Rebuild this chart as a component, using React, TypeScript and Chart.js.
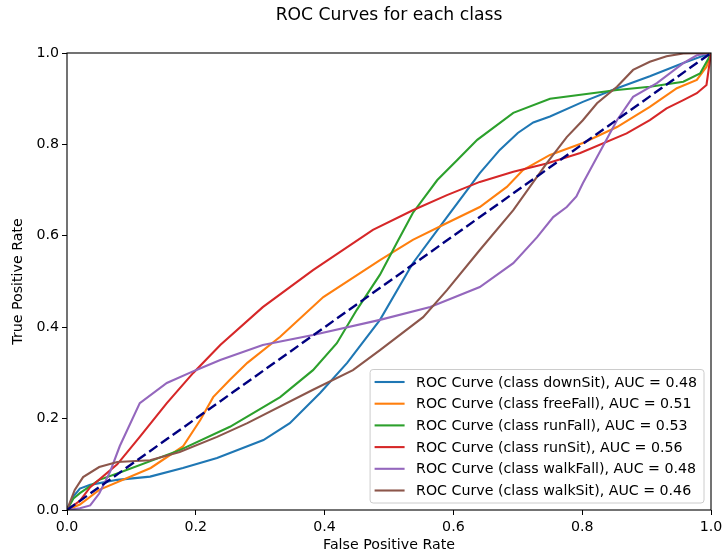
import React, { useEffect, useRef } from "react";
import { Chart, registerables } from "chart.js";

Chart.register(...registerables);

const chartTitle = "ROC Curves for each class";
const xAxisTitle = "False Positive Rate";
const yAxisTitle = "True Positive Rate";

const classNames = ["downSit", "freeFall", "runFall", "runSit", "walkFall", "walkSit"];
const aucValues = [0.48, 0.51, 0.53, 0.56, 0.48, 0.46];
const classColors = ["#1f77b4", "#ff7f0e", "#2ca02c", "#d62728", "#9467bd", "#8c564b"];

const downSitFpr = [0, 0.01, 0.02, 0.036, 0.078, 0.129, 0.18, 0.233, 0.305, 0.346, 0.393, 0.435, 0.486, 0.537, 0.59, 0.641, 0.672, 0.7, 0.724, 0.75, 0.801, 0.854, 0.905, 0.957, 1];
const downSitTpr = [0, 0.03, 0.047, 0.055, 0.066, 0.073, 0.092, 0.114, 0.153, 0.19, 0.256, 0.322, 0.416, 0.54, 0.641, 0.737, 0.788, 0.825, 0.848, 0.861, 0.893, 0.923, 0.949, 0.978, 1];

const freeFallFpr = [0, 0.02, 0.05, 0.13, 0.18, 0.207, 0.227, 0.253, 0.28, 0.331, 0.398, 0.486, 0.537, 0.59, 0.641, 0.683, 0.708, 0.75, 0.801, 0.854, 0.905, 0.947, 0.978, 0.993, 1];
const freeFallTpr = [0, 0.012, 0.044, 0.092, 0.139, 0.197, 0.247, 0.285, 0.322, 0.379, 0.466, 0.547, 0.591, 0.628, 0.663, 0.707, 0.744, 0.777, 0.803, 0.838, 0.882, 0.923, 0.941, 0.97, 1];

const runFallFpr = [0, 0.01, 0.02, 0.05, 0.078, 0.175, 0.253, 0.331, 0.382, 0.419, 0.45, 0.486, 0.512, 0.537, 0.575, 0.606, 0.637, 0.693, 0.75, 0.854, 0.905, 0.957, 0.983, 0.995, 1];
const runFallTpr = [0, 0.025, 0.037, 0.066, 0.08, 0.131, 0.182, 0.247, 0.306, 0.365, 0.438, 0.515, 0.584, 0.65, 0.722, 0.766, 0.81, 0.869, 0.9, 0.919, 0.926, 0.937, 0.955, 0.985, 1];

const runSitFpr = [0, 0.02, 0.036, 0.078, 0.113, 0.155, 0.196, 0.238, 0.304, 0.382, 0.475, 0.537, 0.59, 0.641, 0.693, 0.745, 0.797, 0.869, 0.905, 0.931, 0.957, 0.978, 0.993, 1];
const runSitTpr = [0, 0.02, 0.05, 0.1, 0.16, 0.234, 0.3, 0.361, 0.444, 0.525, 0.613, 0.656, 0.689, 0.718, 0.74, 0.758, 0.781, 0.824, 0.853, 0.879, 0.897, 0.912, 0.93, 1];

const walkFallFpr = [0, 0.02, 0.036, 0.05, 0.067, 0.082, 0.113, 0.155, 0.2, 0.238, 0.304, 0.382, 0.486, 0.564, 0.641, 0.693, 0.73, 0.755, 0.776, 0.791, 0.801, 0.854, 0.879, 0.916, 0.957, 0.978, 1];
const walkFallTpr = [0, 0.004, 0.01, 0.036, 0.084, 0.14, 0.234, 0.278, 0.306, 0.328, 0.361, 0.383, 0.416, 0.444, 0.488, 0.54, 0.597, 0.641, 0.663, 0.686, 0.715, 0.853, 0.904, 0.934, 0.978, 0.995, 1];

const walkSitFpr = [0, 0.012, 0.025, 0.05, 0.078, 0.129, 0.175, 0.233, 0.28, 0.382, 0.444, 0.486, 0.553, 0.59, 0.641, 0.693, 0.745, 0.776, 0.801, 0.823, 0.854, 0.879, 0.905, 0.931, 0.957, 1];
const walkSitTpr = [0, 0.044, 0.072, 0.094, 0.105, 0.109, 0.127, 0.16, 0.19, 0.263, 0.306, 0.35, 0.422, 0.481, 0.569, 0.656, 0.759, 0.816, 0.853, 0.89, 0.926, 0.963, 0.981, 0.993, 0.999, 1];

const chanceFpr = [0, 1];
const chanceTpr = [0, 1];

const tickValues = [0, 0.2, 0.4, 0.6, 0.8, 1.0];

const fprList = [downSitFpr, freeFallFpr, runFallFpr, runSitFpr, walkFallFpr, walkSitFpr];
const tprList = [downSitTpr, freeFallTpr, runFallTpr, runSitTpr, walkFallTpr, walkSitTpr];

const FONT = "'DejaVu Sans', sans-serif";
const TEXT_SIZE = 14.2;

const toPoints = (xs: number[], ys: number[]) => xs.map((x, i) => ({ x, y: ys[i] }));

const framePlugin = {
  id: "frameAndLegend",
  afterDraw(chart: any) {
    const { ctx, chartArea } = chart;
    const { left, right, top, bottom } = chartArea;
    ctx.save();
    ctx.strokeStyle = "#000";
    ctx.lineWidth = 1.1;
    ctx.strokeRect(left, top, right - left, bottom - top);

    ctx.font = `${TEXT_SIZE}px ${FONT}`;
    const labels = classNames.map(
      (n, i) => `ROC Curve (class ${n}), AUC = ${aucValues[i].toFixed(2)}`
    );
    const maxW = Math.max(...labels.map((l) => ctx.measureText(l).width));
    const rowH = 21.7;
    const padTop = 12.5;
    const lineStartOff = 4.5;
    const lineLen = 30;
    const textGap = 11.5;
    const padRight = 7;
    const boxW = lineStartOff + lineLen + textGap + maxW + padRight;
    const boxH = padTop * 2 + rowH * (labels.length - 1);
    const bx = right - 7 - boxW;
    const by = bottom - 7 - boxH;
    const r = 3;
    ctx.beginPath();
    ctx.moveTo(bx + r, by);
    ctx.lineTo(bx + boxW - r, by);
    ctx.quadraticCurveTo(bx + boxW, by, bx + boxW, by + r);
    ctx.lineTo(bx + boxW, by + boxH - r);
    ctx.quadraticCurveTo(bx + boxW, by + boxH, bx + boxW - r, by + boxH);
    ctx.lineTo(bx + r, by + boxH);
    ctx.quadraticCurveTo(bx, by + boxH, bx, by + boxH - r);
    ctx.lineTo(bx, by + r);
    ctx.quadraticCurveTo(bx, by, bx + r, by);
    ctx.closePath();
    ctx.fillStyle = "rgba(255,255,255,0.8)";
    ctx.fill();
    ctx.strokeStyle = "#cccccc";
    ctx.lineWidth = 1;
    ctx.stroke();

    labels.forEach((label, i) => {
      const cy = by + padTop + i * rowH;
      ctx.strokeStyle = classColors[i];
      ctx.lineWidth = 2.1;
      ctx.beginPath();
      ctx.moveTo(bx + lineStartOff, cy);
      ctx.lineTo(bx + lineStartOff + lineLen, cy);
      ctx.stroke();
      ctx.fillStyle = "#000";
      ctx.textBaseline = "middle";
      ctx.textAlign = "left";
      ctx.fillText(label, bx + lineStartOff + lineLen + textGap, cy + 1);
    });
    ctx.restore();
  },
};

export default function App() {
  const canvasRef = useRef<HTMLCanvasElement | null>(null);

  useEffect(() => {
    document.body.style.margin = "0";
    const canvas = canvasRef.current;
    if (!canvas) return;

    const datasets: any[] = classNames.map((name, i) => ({
      label: `ROC Curve (class ${name}), AUC = ${aucValues[i].toFixed(2)}`,
      data: toPoints(fprList[i], tprList[i]),
      borderColor: classColors[i],
      backgroundColor: classColors[i],
      borderWidth: 2.1,
      pointRadius: 0,
      tension: 0,
      fill: false,
      order: 20 - i,
    }));
    datasets.push({
      label: "chance",
      data: toPoints(chanceFpr, chanceTpr),
      borderColor: "#000080",
      backgroundColor: "#000080",
      borderWidth: 2.4,
      borderDash: [10, 4.4],
      pointRadius: 0,
      fill: false,
      order: 0,
    });

    const tickFont = { family: FONT, size: TEXT_SIZE };

    const chart = new Chart(canvas, {
      type: "line",
      data: { datasets },
      options: {
        responsive: false,
        animation: false,
        layout: { padding: { left: 0, right: 11, top: 0, bottom: 0 } },
        plugins: {
          legend: { display: false },
          tooltip: { enabled: false },
          title: {
            display: true,
            fullSize: false,
            text: chartTitle,
            color: "#000",
            font: { family: FONT, size: 17.2, weight: "normal" },
            padding: { top: 5, bottom: 53 - 5 - 17.2 * 1.2 },
          },
        },
        scales: {
          x: {
            type: "linear",
            min: 0,
            max: 1,
            afterFit: (s: any) => {
              s.height = 48;
              s.paddingLeft = 0;
              s.paddingRight = 0;
            },
            afterBuildTicks: (s: any) => {
              s.ticks = tickValues.map((v) => ({ value: v }));
            },
            ticks: {
              color: "#000",
              font: tickFont,
              padding: 4,
              maxRotation: 0,
              autoSkip: false,
              callback: (v: any) => Number(v).toFixed(1),
            },
            grid: {
              display: true,
              drawOnChartArea: false,
              drawTicks: true,
              tickLength: 5,
              color: "#000",
            },
            border: { display: false },
            title: {
              display: true,
              text: xAxisTitle,
              color: "#000",
              font: tickFont,
              padding: { top: 0, bottom: 4 },
            },
          },
          y: {
            type: "linear",
            min: 0,
            max: 1,
            afterFit: (s: any) => {
              s.width = 67;
              s.paddingTop = 0;
              s.paddingBottom = 0;
            },
            afterBuildTicks: (s: any) => {
              s.ticks = tickValues.map((v) => ({ value: v }));
            },
            ticks: {
              color: "#000",
              font: tickFont,
              padding: 3,
              autoSkip: false,
              callback: (v: any) => Number(v).toFixed(1),
            },
            grid: {
              display: true,
              drawOnChartArea: false,
              drawTicks: true,
              tickLength: 5,
              color: "#000",
            },
            border: { display: false },
            title: {
              display: true,
              text: yAxisTitle,
              color: "#000",
              font: tickFont,
              padding: { top: 10, bottom: 0 },
            },
          },
        },
      },
      plugins: [framePlugin],
    });

    return () => chart.destroy();
  }, []);

  return (
    <div style={{ width: 722, height: 558 }}>
      <canvas ref={canvasRef} width={722} height={558} style={{ display: "block" }} />
    </div>
  );
}
